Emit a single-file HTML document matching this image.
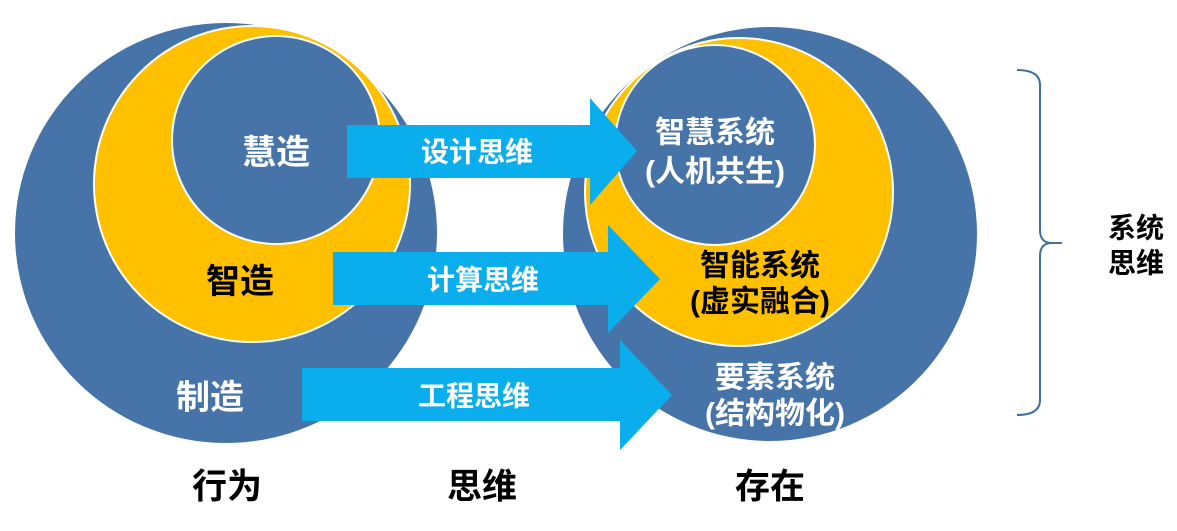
<!DOCTYPE html>
<html><head><meta charset="utf-8"><style>
html,body{margin:0;padding:0;background:#fff;}
svg text{font-family:"Liberation Sans","Noto Sans CJK SC",sans-serif;font-weight:bold;text-anchor:middle;dominant-baseline:central;}
</style></head><body>
<svg width="1177" height="526" viewBox="0 0 1177 526" xmlns="http://www.w3.org/2000/svg">
<ellipse cx="226" cy="233" rx="211" ry="210" fill="#4674a8"/>
<circle cx="252" cy="184" r="158" fill="#ffc000" stroke="#fff" stroke-width="2"/>
<circle cx="276" cy="140" r="104" fill="#4674a8" stroke="#fff" stroke-width="2"/>
<ellipse cx="770" cy="234" rx="207" ry="207" fill="#4674a8"/>
<circle cx="739" cy="192" r="154" fill="#ffc000" stroke="#fff" stroke-width="2"/>
<circle cx="715" cy="145" r="100" fill="#4674a8" stroke="#fff" stroke-width="2"/>
<polygon points="347,125 590,125 590,98 637,151 590,205 590,178 347,178" fill="#0aaeec"/>
<polygon points="333,252 608,252 608,225 660,279 608,333 608,305 333,305" fill="#0aaeec"/>
<polygon points="302,368 620,368 620,340 672,395 620,450 620,421 302,421" fill="#0aaeec"/>
<text x="276" y="153" font-size="34" fill="#fff">慧造</text>
<text x="240" y="282" font-size="34" fill="#000">智造</text>
<text x="210" y="398" font-size="34" fill="#fff">制造</text>
<text x="477" y="152" font-size="28" fill="#fff">设计思维</text>
<text x="483" y="280" font-size="28" fill="#fff">计算思维</text>
<text x="474" y="396" font-size="28" fill="#fff">工程思维</text>
<text x="715" y="133" font-size="30" fill="#fff">智慧系统</text>
<text x="715" y="172" font-size="30" fill="#fff">(人机共生)</text>
<text x="760" y="266" font-size="30" fill="#000">智能系统</text>
<text x="760" y="302" font-size="30" fill="#000">(虚实融合)</text>
<text x="775" y="378" font-size="30" fill="#fff">要素系统</text>
<text x="775" y="414" font-size="30" fill="#fff">(结构物化)</text>
<text x="227" y="487" font-size="35" fill="#000">行为</text>
<text x="482" y="487" font-size="35" fill="#000">思维</text>
<text x="770" y="487" font-size="35" fill="#000">存在</text>
<path d="M1017,70 Q1040,70 1040,85 L1040,230 Q1040,243 1052,243 L1062,243 M1052,243 Q1040,243 1040,256 L1040,400 Q1040,415 1017,415" fill="none" stroke="#41719c" stroke-width="2"/>
<text x="1136" y="228" font-size="28" fill="#000">系统</text>
<text x="1136" y="263" font-size="28" fill="#000">思维</text>
</svg>
</body></html>
